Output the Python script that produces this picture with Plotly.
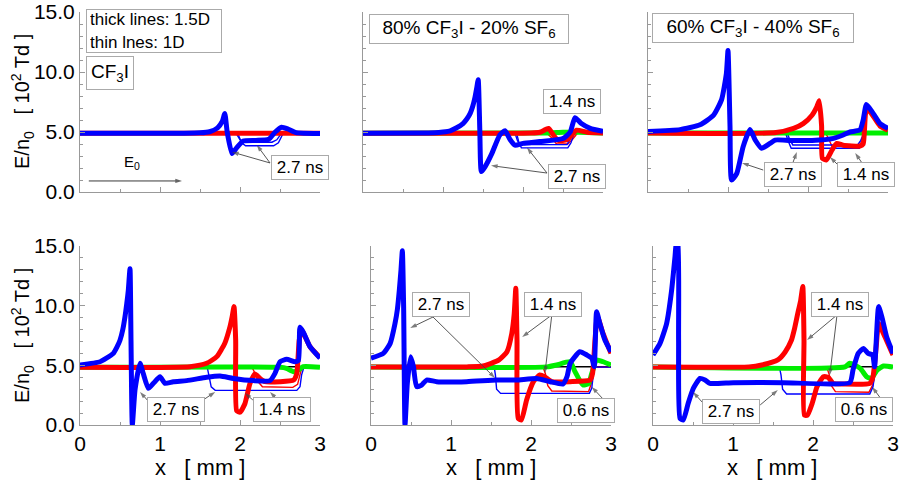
import plotly.graph_objects as go

FONT = "Arial, Liberation Sans, sans-serif"
BLUE, RED, GREEN, BLACK = "#0000ff", "#ff0000", "#00ee00", "#000000"

# ---------------- data (x in mm, E/n0 in 10^2 Td) ----------------
# Panel 1: CF3I
p1_red_x = [0, 3.0]
p1_red_y = [4.9, 4.9]
p1_blue_x = [0, 1.3, 1.5, 1.62, 1.72, 1.78, 1.81, 1.84, 1.9, 1.96, 2.04, 2.2, 2.36, 2.44, 2.52, 2.6, 2.7, 2.8, 3.0]
p1_blue_y = [4.9, 4.9, 4.93, 5.02, 5.35, 5.9, 6.55, 5.0, 3.2, 3.7, 4.25, 4.3, 4.4, 5.0, 5.4, 5.25, 4.95, 4.9, 4.88]
p1_bthin1_x = [0, 1.95, 2.0, 2.05, 2.4, 2.46, 2.52, 3.0]
p1_bthin1_y = [4.9, 4.9, 4.35, 4.15, 4.15, 4.35, 4.9, 4.9]
p1_bthin2_x = [0, 1.97, 2.02, 2.07, 2.42, 2.48, 2.54, 3.0]
p1_bthin2_y = [4.9, 4.9, 4.1, 3.85, 3.85, 4.1, 4.9, 4.9]

# Panel 2: 80% CF3I - 20% SF6
p2_green_x = [0, 2.3, 2.5, 2.7, 3.0]
p2_green_y = [4.9, 4.92, 4.98, 4.98, 4.92]
p2_red_x = [0, 2.1, 2.21, 2.28, 2.32, 2.38, 2.44, 2.55, 2.61, 2.67, 2.8, 3.0]
p2_red_y = [4.9, 4.92, 4.98, 5.2, 5.3, 4.75, 4.3, 4.35, 4.75, 5.15, 4.98, 4.92]
p2_blue_x = [0, 0.9, 1.0, 1.09, 1.17, 1.25, 1.3, 1.34, 1.37, 1.4, 1.42, 1.44, 1.46, 1.48, 1.525, 1.61, 1.71, 1.775, 1.84, 1.9, 2.0, 2.21, 2.5, 2.59, 2.65, 2.73, 2.84, 3.0]
p2_blue_y = [4.9, 4.93, 5.0, 5.1, 5.35, 5.7, 6.1, 6.55, 7.1, 7.9, 8.6, 9.35, 5.2, 1.7, 2.1, 3.2, 4.75, 5.1, 4.35, 3.9, 4.05, 4.2, 4.45, 5.0, 6.2, 5.7, 5.3, 5.05]
p2_rthin_x = [0, 2.3, 2.36, 2.42, 2.56, 2.62, 2.68, 3.0]
p2_rthin_y = [4.9, 4.9, 4.5, 4.0, 4.0, 4.4, 4.9, 4.9]
p2_bthin1_x = [0, 1.9, 1.93, 1.96, 2.55, 2.58, 2.62, 3.0]
p2_bthin1_y = [4.9, 4.9, 4.3, 3.95, 3.95, 4.3, 4.9, 4.9]
p2_bthin2_x = [0, 1.92, 1.95, 1.98, 2.56, 2.6, 2.64, 3.0]
p2_bthin2_y = [4.9, 4.9, 4.1, 3.68, 3.68, 4.1, 4.9, 4.9]

# Panel 3: 60% CF3I - 40% SF6
p3_green_x = [0, 3.0]
p3_green_y = [4.92, 4.92]
p3_red_x = [0, 1.6, 1.82, 1.94, 2.05, 2.11, 2.14, 2.17, 2.18, 2.23, 2.3, 2.36, 2.44, 2.65, 2.69, 2.72, 2.75, 2.9, 3.0]
p3_red_y = [4.92, 4.95, 5.3, 5.7, 6.4, 7.1, 7.6, 5.5, 2.8, 2.67, 3.5, 4.05, 3.9, 3.83, 4.0, 6.55, 6.9, 5.5, 5.15]
p3_blue_x = [0, 0.4, 0.65, 0.82, 0.92, 0.98, 1.0, 1.025, 1.045, 1.11, 1.19, 1.275, 1.34, 1.42, 1.525, 1.59, 1.775, 2.05, 2.32, 2.44, 2.525, 2.65, 2.69, 2.73, 2.8, 2.9, 3.0]
p3_blue_y = [5.05, 5.2, 5.6, 6.4, 7.7, 9.9, 11.8, 5.5, 1.0, 1.55, 3.8, 5.2, 4.33, 3.64, 4.05, 4.33, 4.3, 4.3, 4.47, 4.75, 5.0, 5.17, 6.0, 7.3, 6.7, 5.7, 5.3]
p3_rthin_x = [0, 2.22, 2.26, 2.3, 2.64, 2.68, 2.72, 3.0]
p3_rthin_y = [4.92, 4.92, 4.4, 3.8, 3.8, 4.3, 4.92, 4.92]
p3_bthin1_x = [0, 1.72, 1.75, 1.79, 2.64, 2.68, 2.72, 3.0]
p3_bthin1_y = [4.92, 4.92, 4.3, 3.65, 3.65, 4.1, 4.9, 4.92]
p3_bthin2_x = [0, 1.74, 1.77, 1.81, 2.62, 2.66, 2.7, 3.0]
p3_bthin2_y = [4.92, 4.92, 4.4, 3.92, 3.92, 4.3, 4.92, 4.92]

# Panel 4: 40% CF3I - 60% SF6
p4_black_x = [0, 3.0]
p4_black_y = [4.88, 4.88]
p4_green_x = [0, 2.5, 2.58, 2.67, 2.73, 2.79, 3.0]
p4_green_y = [4.83, 4.83, 4.75, 4.47, 4.6, 4.89, 4.83]
p4_red_x = [0, 1.375, 1.583, 1.71, 1.81, 1.875, 1.9, 1.925, 1.946, 1.958, 2.0, 2.06, 2.125, 2.1875, 2.25, 2.3125, 2.5, 2.67, 2.71, 2.74, 2.77, 2.875, 3.0]
p4_red_y = [4.83, 4.89, 5.17, 5.73, 6.85, 8.24, 9.0, 9.92, 7.1, 1.2, 1.07, 1.76, 3.49, 4.27, 3.9, 3.63, 3.63, 3.77, 4.33, 7.1, 7.95, 6.56, 5.66]
p4_blue_x = [0, 0.25, 0.33, 0.417, 0.46, 0.5, 0.535, 0.5625, 0.585, 0.604, 0.625, 0.6375, 0.654, 0.6875, 0.75, 0.79, 0.854, 0.917, 1.0, 1.0625, 1.167, 1.333, 1.583, 1.75, 1.917, 2.167, 2.375, 2.4375, 2.5, 2.583, 2.6875, 2.73, 2.75, 2.79, 2.875, 3.0]
p4_blue_y = [5.03, 5.3, 5.6, 6.0, 6.5, 7.1, 8.0, 9.08, 10.2, 11.3, 13.1, 7.1, 0.0, 2.93, 5.17, 4.33, 3.07, 3.49, 4.05, 3.49, 3.63, 3.72, 4.0, 4.1, 3.9, 3.72, 3.72, 4.33, 5.3, 5.5, 5.3, 5.4, 8.2, 7.8, 6.56, 5.6]
p4_rthin_x = [0, 2.15, 2.19, 2.23, 2.28, 2.66, 2.72, 2.76, 2.8, 3.0]
p4_rthin_y = [4.85, 4.85, 4.3, 3.6, 3.2, 3.15, 3.4, 4.5, 4.85, 4.85]
p4_bthin_x = [0, 1.59, 1.61, 1.64, 1.69, 2.71, 2.75, 2.77, 2.8, 3.0]
p4_bthin_y = [4.85, 4.85, 4.2, 3.2, 2.9, 2.9, 3.2, 4.2, 4.85, 4.85]

# Panel 5: 20% CF3I - 80% SF6
p5_black_x = [0, 3.0]
p5_black_y = [4.88, 4.88]
p5_green_x = [0, 2.2, 2.32, 2.49, 2.55, 2.65, 2.72, 2.76, 2.82, 2.9, 3.0]
p5_green_y = [4.85, 4.87, 5.03, 5.3, 4.47, 3.35, 3.49, 4.33, 5.45, 5.3, 5.03]
p5_red_x = [0, 1.2, 1.4, 1.6, 1.7, 1.76, 1.79, 1.81, 1.825, 1.84, 1.88, 1.945, 2.03, 2.11, 2.17, 2.26, 2.49, 2.74, 2.77, 2.8, 2.83, 2.9, 3.0]
p5_red_y = [4.85, 4.87, 4.94, 5.45, 6.14, 7.68, 9.3, 11.45, 7.1, 0.56, 0.42, 2.1, 3.63, 4.19, 4.05, 3.63, 3.63, 3.77, 4.33, 7.1, 9.1, 7.68, 6.0]
p5_blue_x = [0, 0.154, 0.24, 0.3, 0.33, 0.354, 0.375, 0.392, 0.408, 0.425, 0.454, 0.496, 0.53, 0.57, 0.633, 0.696, 0.82, 1.196, 1.57, 1.82, 2.07, 2.24, 2.4, 2.45, 2.49, 2.61, 2.7, 2.76, 2.79, 2.82, 2.86, 2.925, 3.0]
p5_blue_y = [5.6, 6.0, 6.84, 8.5, 9.7, 11.3, 13.0, 14.6, 9.9, 0.0, 3.49, 5.72, 4.89, 3.21, 3.35, 3.77, 3.63, 3.63, 3.77, 3.77, 3.9, 3.63, 3.44, 4.05, 5.17, 6.14, 5.86, 5.59, 4.89, 9.5, 8.52, 7.1, 6.14]
p5_rthin_x = [0, 2.15, 2.18, 2.21, 2.26, 2.72, 2.76, 2.8, 3.0]
p5_rthin_y = [4.85, 4.85, 4.3, 3.3, 2.85, 2.8, 3.6, 4.85, 4.85]
p5_bthin_x = [0, 1.54, 1.555, 1.57, 1.62, 2.73, 2.76, 2.78, 2.8, 3.0]
p5_bthin_y = [4.85, 4.85, 4.2, 3.0, 2.65, 2.65, 3.1, 4.3, 4.85, 4.85]

# Panel 6: SF6
p6_black_x = [0, 3.0]
p6_black_y = [4.88, 4.88]
p6_green_x = [0, 2.4, 2.46, 2.59, 2.67, 2.73, 2.8, 2.88, 3.0]
p6_green_y = [4.85, 4.87, 5.17, 4.75, 4.05, 3.9, 4.6, 4.94, 4.85]
p6_red_x = [0, 1.2, 1.36, 1.56, 1.65, 1.73, 1.77, 1.81, 1.845, 1.8725, 1.8875, 1.8915, 1.93, 1.99, 2.05, 2.13, 2.19, 2.25, 2.38, 2.71, 2.75, 2.79, 2.82, 2.88, 3.0]
p6_red_y = [4.85, 4.87, 5.03, 5.45, 6.1, 7.1, 8.1, 9.36, 10.4, 11.6, 7.1, 0.83, 0.83, 1.82, 3.21, 4.05, 4.0, 3.49, 3.44, 3.49, 4.05, 6.56, 8.5, 7.68, 5.87]
p6_blue_x = [0, 0.0875, 0.17, 0.233, 0.275, 0.296, 0.31, 0.32, 0.3375, 0.379, 0.44, 0.504, 0.5875, 0.65, 0.71, 1.004, 1.63, 2.46, 2.5, 2.565, 2.63, 2.69, 2.745, 2.77, 2.82, 2.86, 2.92, 3.0]
p6_blue_y = [5.87, 6.84, 8.5, 11.3, 14.1, 15.5, 15.5, 7.1, 0.56, 0.42, 1.82, 3.07, 3.9, 3.77, 3.49, 3.55, 3.55, 3.55, 4.61, 6.0, 6.42, 6.0, 5.87, 4.89, 9.92, 9.08, 7.4, 6.0]
p6_rthin_x = [0, 2.17, 2.2, 2.23, 2.28, 2.7, 2.75, 2.79, 3.0]
p6_rthin_y = [4.85, 4.85, 4.3, 3.3, 2.8, 2.75, 3.4, 4.85, 4.85]
p6_bthin_x = [0, 1.58, 1.6, 1.62, 1.67, 2.71, 2.75, 2.775, 2.8, 3.0]
p6_bthin_y = [4.85, 4.85, 4.2, 3.0, 2.6, 2.6, 3.2, 4.5, 4.85, 4.85]

THIN, THICK = 1.4, 5
# traces per panel: (x, y, color, width), drawn in order
panels = {
    1: [(p1_bthin1_x, p1_bthin1_y, BLUE, THIN), (p1_bthin2_x, p1_bthin2_y, BLUE, THIN),
        (p1_red_x, p1_red_y, RED, THICK), (p1_blue_x, p1_blue_y, BLUE, THICK)],
    2: [(p2_rthin_x, p2_rthin_y, RED, THIN), (p2_bthin1_x, p2_bthin1_y, BLUE, THIN),
        (p2_bthin2_x, p2_bthin2_y, BLUE, THIN),
        (p2_green_x, p2_green_y, GREEN, THICK), (p2_red_x, p2_red_y, RED, THICK),
        (p2_blue_x, p2_blue_y, BLUE, THICK)],
    3: [(p3_rthin_x, p3_rthin_y, RED, THIN), (p3_bthin1_x, p3_bthin1_y, BLUE, THIN),
        (p3_bthin2_x, p3_bthin2_y, BLUE, THIN),
        (p3_green_x, p3_green_y, GREEN, THICK), (p3_red_x, p3_red_y, RED, THICK),
        (p3_blue_x, p3_blue_y, BLUE, THICK)],
    4: [(p4_black_x, p4_black_y, BLACK, THIN), (p4_rthin_x, p4_rthin_y, RED, THIN),
        (p4_bthin_x, p4_bthin_y, BLUE, THIN),
        (p4_green_x, p4_green_y, GREEN, THICK), (p4_red_x, p4_red_y, RED, THICK),
        (p4_blue_x, p4_blue_y, BLUE, THICK)],
    5: [(p5_black_x, p5_black_y, BLACK, THIN), (p5_rthin_x, p5_rthin_y, RED, THIN),
        (p5_bthin_x, p5_bthin_y, BLUE, THIN),
        (p5_green_x, p5_green_y, GREEN, THICK), (p5_red_x, p5_red_y, RED, THICK),
        (p5_blue_x, p5_blue_y, BLUE, THICK)],
    6: [(p6_black_x, p6_black_y, BLACK, THIN), (p6_rthin_x, p6_rthin_y, RED, THIN),
        (p6_bthin_x, p6_bthin_y, BLUE, THIN),
        (p6_green_x, p6_green_y, GREEN, THICK), (p6_red_x, p6_red_y, RED, THICK),
        (p6_blue_x, p6_blue_y, BLUE, THICK)],
}

W, H = 899, 482
# plot-area pixel boxes (left, right, top, bottom)
boxes = {
    1: (80, 320, 12, 192), 2: (363, 603, 12, 192), 3: (648, 888, 12, 192),
    4: (80, 320, 246, 425), 5: (371, 611, 246, 425), 6: (653, 893, 246, 425),
}

fig = go.Figure()

def ref(n):
    return ("x", "y") if n == 1 else (f"x{n}", f"y{n}")

for n, traces in panels.items():
    xr, yr = ref(n)
    for xs, ys, col, w in traces:
        shape = "spline" if w == THICK else "linear"
        fig.add_trace(go.Scatter(x=xs, y=ys, mode="lines", xaxis=xr, yaxis=yr,
                                 line=dict(color=col, width=w, shape=shape, smoothing=0.5),
                                 showlegend=False, hoverinfo="skip"))

layout = dict(width=W, height=H, autosize=False,
              margin=dict(l=0, r=0, t=0, b=0, autoexpand=False),
              paper_bgcolor="white", plot_bgcolor="white",
              font=dict(family=FONT, color="black"))

for n, (l, r, t, b) in boxes.items():
    xk = "xaxis" if n == 1 else f"xaxis{n}"
    yk = "yaxis" if n == 1 else f"yaxis{n}"
    xr, yr = ref(n)
    bottom = n >= 4
    left = n in (1, 4)
    layout[xk] = dict(domain=[l / W, r / W], anchor=yr, range=[0, 3], showgrid=False,
                      zeroline=False, showline=True, linecolor="#999", linewidth=1,
                      ticks="inside", ticklen=5, tickcolor="#999", dtick=1, tick0=0,
                      minor=dict(ticks="inside", ticklen=3, dtick=0.5, tickcolor="#999"),
                      automargin=False, fixedrange=True,
                      showticklabels=bottom, tickfont=dict(size=21, family=FONT))
    layout[yk] = dict(domain=[1 - b / H, 1 - t / H], anchor=xr, range=[0, 15], showgrid=False,
                      zeroline=False, showline=True, linecolor="#999", linewidth=1,
                      ticks="inside", ticklen=5, tickcolor="#999", dtick=5, tick0=0,
                      tickformat=".1f", automargin=False, fixedrange=True,
                      minor=dict(ticks="inside", ticklen=3, dtick=1, tickcolor="#999"),
                      showticklabels=left, tickfont=dict(size=21, family=FONT))

ann = []

def box(n, txt, x, y, w, h, size=17, align="center"):
    xr, yr = ref(n)
    ann.append(dict(text=txt, x=x, y=y, xref=xr, yref=yr, showarrow=False,
                    bordercolor="#aaa", borderwidth=1, borderpad=3, bgcolor="white",
                    width=w, height=h, align=align, xanchor="center", yanchor="middle",
                    font=dict(size=size, family=FONT, color="black")))

def arrow(n, tx, ty, sx, sy, color="#444", width=0.9):
    # pointer line from (sx, sy) to the arrow tip at (tx, ty)
    xr, yr = ref(n)
    fig.add_trace(go.Scatter(x=[sx, tx], y=[sy, ty], mode="lines+markers",
                             xaxis=xr, yaxis=yr, showlegend=False, hoverinfo="skip",
                             line=dict(color=color, width=width),
                             marker=dict(symbol=["circle", "arrow"], size=[0, 7],
                                         angleref="previous", color=color,
                                         line=dict(width=0))))

# Panel 1
box(1, "thick lines: 1.5D<br>thin lnes: 1D", 0.92, 13.38, 128, 36, size=17, align="left")
box(1, "CF<sub>3</sub>I", 0.37, 9.88, 40, 26, size=19)
ann.append(dict(text="E<sub>0</sub>", x=0.65, y=2.5, xref="x", yref="y", showarrow=False,
                font=dict(size=15, family=FONT, color="black")))
arrow(1, 1.275, 0.92, 0.11, 0.92, color="#222")
box(1, "2.7 ns", 2.75, 2.08, 50, 17)
arrow(1, 1.9, 3.33, 2.375, 2.42)
arrow(1, 2.21, 3.92, 2.375, 2.42)

# Panel 2
box(2, "80% CF<sub>3</sub>I - 20% SF<sub>6</sub>", 1.325, 13.6, 192, 22, size=19)
box(2, "1.4 ns", 2.61, 7.58, 50, 17)
box(2, "2.7 ns", 2.67, 1.29, 50, 17)
arrow(2, 1.6, 2.2, 2.3, 1.58)
arrow(2, 2.05, 3.7, 2.3, 1.58)

# Panel 3
box(3, "60% CF<sub>3</sub>I - 40% SF<sub>6</sub>", 1.31, 13.67, 194, 22, size=19)
box(3, "2.7 ns", 1.81, 1.42, 50, 17)
arrow(3, 1.175, 2.42, 1.44, 1.83)
arrow(3, 1.86, 3.33, 1.81, 2.42)
box(3, "1.4 ns", 2.73, 1.42, 50, 17)
arrow(3, 2.275, 2.92, 2.375, 2.25)
arrow(3, 2.59, 3.25, 2.675, 2.42)

# Panel 4
box(4, "40% CF<sub>3</sub>I - 60% SF<sub>6</sub>", 1.256, 15.84, 190, 24, size=19)
box(4, "2.7 ns", 1.206, 1.34, 50, 17)
arrow(4, 0.75, 2.77, 0.875, 1.84)
arrow(4, 1.69, 2.77, 1.54, 2.1)
box(4, "1.4 ns", 2.53, 1.34, 50, 17)
arrow(4, 2.06, 2.68, 2.16, 2.1)
arrow(4, 2.375, 2.77, 2.46, 2.18)

# Panel 5
box(5, "20% CF<sub>3</sub>I - 80% SF<sub>6</sub>", 1.825, 15.84, 192, 24, size=19)
box(5, "2.7 ns", 0.88, 10.06, 50, 17)
arrow(5, 0.49, 8.13, 0.775, 9.05)
arrow(5, 1.55, 3.94, 0.775, 9.05)
box(5, "1.4 ns", 2.27, 10.14, 50, 17)
arrow(5, 1.89, 7.38, 2.26, 9.22)
arrow(5, 2.175, 4.36, 2.26, 9.22)
box(5, "0.6 ns", 2.69, 1.22, 50, 17)
arrow(5, 2.76, 3.19, 2.9, 2.18)

# Panel 6
box(6, "SF<sub>6</sub>", 0.69, 15.76, 34, 24, size=19)
box(6, "2.7 ns", 0.98, 1.17, 50, 17)
arrow(6, 0.5, 2.77, 0.625, 1.84)
arrow(6, 1.56, 2.93, 1.34, 1.68)
box(6, "1.4 ns", 2.34, 10.14, 50, 17)
arrow(6, 1.925, 7.12, 2.3, 9.22)
arrow(6, 2.21, 4.19, 2.3, 9.22)
box(6, "0.6 ns", 2.64, 1.34, 50, 17)
arrow(6, 2.74, 3.19, 2.86, 2.1)

# axis titles
ytitle = "E/n<sub>0</sub>   [ 10<sup>2</sup> Td ]"
for yc in (102, 336):
    ann.append(dict(text=ytitle, x=22 / W, y=1 - yc / H, xref="paper", yref="paper",
                    showarrow=False, textangle=-90, xanchor="center", yanchor="middle",
                    font=dict(size=20, family=FONT, color="black")))
for xc in (200, 491, 772):
    ann.append(dict(text="x   [ mm ]", x=xc / W, y=1 - 467 / H, xref="paper", yref="paper",
                    showarrow=False, xanchor="center", yanchor="middle",
                    font=dict(size=22, family=FONT, color="black")))

layout["annotations"] = ann
fig.update_layout(**layout)
fig.write_html("out.html", config={"displayModeBar": False, "staticPlot": True},
               post_script="document.body.style.margin='0px';document.body.style.overflow='hidden';")
